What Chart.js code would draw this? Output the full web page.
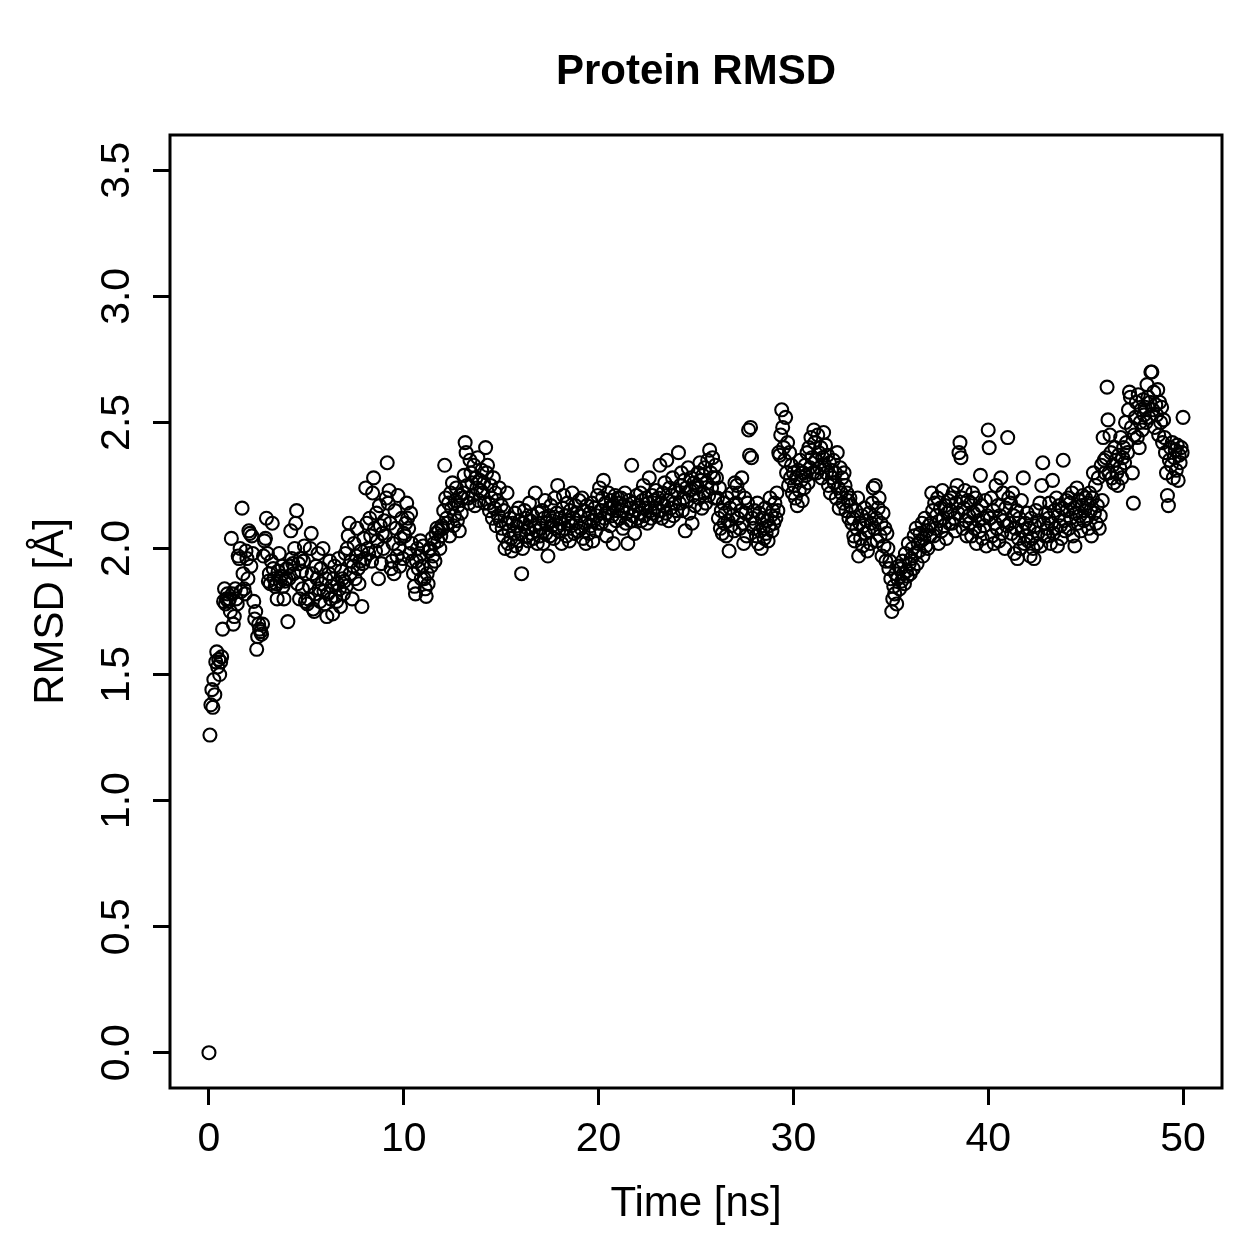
<!DOCTYPE html>
<html>
<head>
    <title>Protein RMSD</title>
    <script src="https://cdn.jsdelivr.net/npm/chart.js"></script>
    <style>
        body { margin: 0; background: #ffffff; }
    </style>
</head>
<body>
    <canvas id="mainChart" width="1259" height="1259"></canvas>
    <script>
        // Шаг по времени между кадрами (нс)
        const timeStep = 0.05;

        // RMSD белка (Å), по 20 кадров на каждую наносекунду
        const rmsd = [0.00,
            1.26, 1.38, 1.44, 1.37, 1.48, 1.42, 1.55, 1.59, 1.53, 1.56, 1.50, 1.55, 1.57, 1.68, 1.79, 1.84, 1.78, 1.80, 1.82, 1.79,
            1.80, 1.75, 2.04, 1.82, 1.70, 1.73, 1.84, 1.80, 1.78, 1.97, 1.96, 2.00, 1.83, 2.16, 1.90, 1.84, 1.82, 1.99, 1.96, 1.88,
            2.07, 2.06, 1.93, 2.05, 1.98, 1.79, 1.72, 1.75, 1.60, 1.65, 1.70, 1.68, 1.67, 1.66, 1.70, 1.97, 2.03, 2.04, 2.12, 1.98,
            1.87, 1.90, 1.86, 1.95, 2.10, 1.92, 1.88, 1.85, 1.86, 1.80, 1.91, 1.98, 1.87, 1.89, 1.93, 1.85, 1.80, 1.87, 1.88, 1.92,
            1.71, 1.88, 1.93, 2.07, 1.96, 1.94, 1.90, 2.00, 2.10, 2.15, 1.86, 1.94, 1.80, 1.96, 1.91, 1.84, 1.95, 2.01, 1.79, 1.90,
            1.78, 1.80, 1.85, 2.00, 2.06, 1.90, 1.76, 1.75, 1.82, 1.93, 1.88, 1.98, 1.84, 1.79, 1.92, 1.86, 2.00, 1.83, 1.78, 1.88,
            1.73, 1.82, 1.90, 1.95, 1.80, 1.85, 1.74, 1.88, 1.93, 1.81, 1.79, 1.86, 1.96, 1.84, 1.77, 1.91, 1.88, 1.82, 1.87, 1.98,
            1.85, 2.00, 2.05, 2.10, 1.90, 1.95, 1.80, 1.93, 2.02, 1.88, 1.97, 2.08, 1.92, 1.86, 1.95, 1.99, 1.77, 1.94, 2.04, 1.96,
            2.24, 2.10, 2.00, 1.98, 2.12, 2.05, 1.95, 2.22, 2.28, 2.08, 1.99, 2.14, 2.03, 1.88, 2.17, 2.09, 1.94, 2.06, 2.00, 2.11,
            2.05, 2.20, 2.34, 2.18, 2.23, 2.10, 1.92, 1.95, 2.02, 1.90, 2.15, 2.08, 1.97, 2.21, 2.00, 1.93, 2.04, 2.12, 1.96, 2.06,
            2.05, 2.10, 2.18, 2.12, 2.08, 1.98, 2.14, 2.02, 1.95, 1.90, 1.85, 1.82, 1.95, 2.00, 1.92, 1.97, 2.03, 1.88, 1.93, 2.01,
            1.88, 1.84, 1.81, 1.90, 1.86, 1.99, 2.00, 1.93, 2.04, 1.97, 2.02, 1.95, 2.06, 2.08, 2.03, 2.07, 2.00, 2.05, 2.09, 2.08,
            2.15, 2.33, 2.20, 2.12, 2.10, 2.18, 2.05, 2.22, 2.16, 2.26, 2.09, 2.13, 2.19, 2.24, 2.11, 2.17, 2.07, 2.21, 2.14, 2.20,
            2.22, 2.29, 2.42, 2.38, 2.25, 2.20, 2.18, 2.35, 2.30, 2.26, 2.21, 2.33, 2.17, 2.28, 2.24, 2.36, 2.19, 2.27, 2.23, 2.31,
            2.22, 2.26, 2.18, 2.40, 2.30, 2.33, 2.18, 2.15, 2.25, 2.20, 2.12, 2.28, 2.16, 2.22, 2.09, 2.19, 2.13, 2.24, 2.11, 2.17,
            2.08, 2.05, 2.15, 2.00, 2.10, 2.22, 2.02, 2.07, 2.12, 2.04, 1.99, 2.10, 2.06, 2.14, 2.01, 2.09, 2.03, 2.16, 2.11, 2.06,
            1.90, 2.00, 2.10, 2.15, 2.12, 2.05, 2.08, 2.03, 2.18, 2.11, 2.06, 2.13, 2.04, 2.09, 2.22, 2.07, 2.02, 2.14, 2.10, 2.05,
            2.08, 2.15, 2.02, 2.12, 2.19, 2.06, 2.10, 1.97, 2.13, 2.05, 2.17, 2.09, 2.11, 2.04, 2.20, 2.08, 2.14, 2.25, 2.07, 2.12,
            2.10, 2.02, 2.16, 2.21, 2.08, 2.13, 2.05, 2.18, 2.11, 2.03, 2.15, 2.09, 2.22, 2.12, 2.06, 2.17, 2.10, 2.14, 2.07, 2.19,
            2.13, 2.08, 2.20, 2.04, 2.15, 2.10, 2.02, 2.17, 2.12, 2.06, 2.14, 2.09, 2.18, 2.03, 2.11, 2.16, 2.07, 2.13, 2.21, 2.10,
            2.24, 2.15, 2.10, 2.20, 2.27, 2.12, 2.18, 2.05, 2.14, 2.22, 2.16, 2.09, 2.19, 2.13, 2.02, 2.17, 2.21, 2.11, 2.15, 2.20,
            2.18, 2.12, 2.20, 2.15, 2.08, 2.17, 2.22, 2.10, 2.14, 2.02, 2.19, 2.16, 2.11, 2.33, 2.13, 2.18, 2.06, 2.15, 2.21, 2.12,
            2.17, 2.14, 2.22, 2.11, 2.19, 2.25, 2.13, 2.16, 2.20, 2.10, 2.18, 2.28, 2.15, 2.12, 2.21, 2.14, 2.19, 2.16, 2.23, 2.13,
            2.20, 2.15, 2.33, 2.18, 2.12, 2.22, 2.17, 2.26, 2.14, 2.35, 2.19, 2.11, 2.24, 2.16, 2.21, 2.28, 2.13, 2.18, 2.23, 2.15,
            2.22, 2.38, 2.18, 2.25, 2.30, 2.15, 2.20, 2.27, 2.07, 2.24, 2.19, 2.32, 2.14, 2.23, 2.28, 2.10, 2.21, 2.26, 2.17, 2.24,
            2.25, 2.30, 2.20, 2.34, 2.27, 2.16, 2.29, 2.22, 2.32, 2.18, 2.26, 2.35, 2.21, 2.39, 2.30, 2.24, 2.36, 2.28, 2.20, 2.33,
            2.28, 2.20, 2.12, 2.24, 2.08, 2.15, 2.06, 2.18, 2.10, 2.14, 2.05, 2.20, 2.11, 1.99, 2.16, 2.09, 2.22, 2.13, 2.07, 2.26,
            2.18, 2.25, 2.12, 2.22, 2.08, 2.15, 2.28, 2.10, 2.02, 2.20, 2.14, 2.05, 2.18, 2.47, 2.37, 2.48, 2.36, 2.12, 2.08, 2.15,
            2.10, 2.05, 2.18, 2.02, 2.14, 2.07, 2.00, 2.12, 2.08, 2.04, 2.16, 2.06, 2.11, 2.03, 2.09, 2.20, 2.13, 2.07, 2.15, 2.10,
            2.18, 2.12, 2.22, 2.15, 2.38, 2.37, 2.45, 2.55, 2.48, 2.40, 2.35, 2.52, 2.30, 2.42, 2.25, 2.38, 2.28, 2.33, 2.22, 2.30,
            2.25, 2.20, 2.28, 2.17, 2.31, 2.23, 2.35, 2.27, 2.19, 2.30, 2.24, 2.33, 2.29, 2.38, 2.26, 2.40, 2.32, 2.44, 2.36, 2.30,
            2.47, 2.42, 2.35, 2.30, 2.45, 2.38, 2.32, 2.40, 2.28, 2.36, 2.46, 2.33, 2.41, 2.30, 2.37, 2.25, 2.34, 2.22, 2.31, 2.28,
            2.35, 2.26, 2.30, 2.20, 2.38, 2.24, 2.16, 2.32, 2.22, 2.28, 2.18, 2.30, 2.25, 2.15, 2.22, 2.19, 2.12, 2.20, 2.17, 2.10,
            2.12, 2.05, 2.03, 2.15, 2.08, 2.20, 1.97, 2.10, 2.04, 2.13, 2.01, 2.09, 2.16, 2.06, 2.11, 1.99, 2.07, 2.14, 2.02, 2.10,
            2.18, 2.24, 2.08, 2.25, 2.12, 2.03, 2.16, 2.20, 2.05, 2.10, 1.97, 2.14, 2.01, 2.08, 1.95, 2.06, 2.00, 1.92, 1.95, 1.88,
            1.75, 1.80, 1.85, 1.82, 1.90, 1.78, 1.88, 1.93, 1.84, 1.92, 1.87, 1.95, 1.90, 1.86, 1.98, 1.91, 1.89, 2.02, 1.94, 1.90,
            1.96, 2.00, 1.92, 2.05, 1.98, 2.08, 1.94, 2.02, 1.99, 2.06, 2.03, 2.10, 1.97, 2.04, 2.12, 2.01, 2.07, 2.00, 2.09, 2.05,
            2.10, 2.22, 2.15, 2.05, 2.18, 2.08, 2.13, 2.20, 2.02, 2.11, 2.16, 2.07, 2.23, 2.12, 2.09, 2.17, 2.04, 2.14, 2.19, 2.10,
            2.15, 2.20, 2.10, 2.22, 2.12, 2.07, 2.18, 2.25, 2.14, 2.38, 2.42, 2.36, 2.20, 2.08, 2.16, 2.23, 2.11, 2.05, 2.19, 2.13,
            2.10, 2.18, 2.05, 2.22, 2.14, 2.08, 2.20, 2.02, 2.15, 2.11, 2.07, 2.29, 2.17, 2.04, 2.12, 2.09, 2.19, 2.01, 2.13, 2.47,
            2.40, 2.12, 2.20, 2.05, 2.15, 2.02, 2.10, 2.25, 2.08, 2.17, 2.03, 2.13, 2.28, 2.06, 2.22, 2.11, 2.00, 2.16, 2.09, 2.44,
            2.20, 2.10, 2.18, 2.06, 2.22, 2.13, 1.98, 2.08, 2.15, 1.96, 2.04, 2.12, 2.00, 2.19, 2.07, 2.28, 2.02, 2.10, 2.05, 2.14,
            2.03, 2.08, 1.97, 2.12, 2.04, 2.00, 1.96, 2.09, 2.15, 2.02, 2.06, 2.11, 2.18, 2.01, 2.25, 2.34, 2.10, 2.05, 2.14, 2.08,
            2.05, 2.12, 2.18, 2.02, 2.10, 2.27, 2.06, 2.15, 2.08, 2.20, 2.01, 2.13, 2.17, 2.09, 2.04, 2.16, 2.35, 2.11, 2.07, 2.19,
            2.15, 2.20, 2.08, 2.18, 2.12, 2.22, 2.05, 2.16, 2.01, 2.14, 2.24, 2.10, 2.19, 2.13, 2.07, 2.17, 2.21, 2.11, 2.15, 2.20,
            2.12, 2.18, 2.08, 2.22, 2.15, 2.05, 2.20, 2.30, 2.14, 2.25, 2.10, 2.17, 2.28, 2.08, 2.13, 2.33, 2.19, 2.44, 2.35, 2.30,
            2.36, 2.64, 2.51, 2.30, 2.45, 2.38, 2.28, 2.33, 2.26, 2.40, 2.35, 2.30, 2.25, 2.37, 2.32, 2.44, 2.28, 2.36, 2.40, 2.34,
            2.50, 2.42, 2.38, 2.55, 2.62, 2.60, 2.48, 2.30, 2.18, 2.45, 2.52, 2.58, 2.44, 2.61, 2.40, 2.50, 2.55, 2.47, 2.59, 2.53,
            2.56, 2.50, 2.65, 2.60, 2.52, 2.58, 2.70, 2.70, 2.55, 2.62, 2.48, 2.57, 2.53, 2.63, 2.45, 2.58, 2.50, 2.56, 2.42, 2.51,
            2.44, 2.38, 2.30, 2.21, 2.17, 2.35, 2.40, 2.33, 2.42, 2.28, 2.36, 2.39, 2.31, 2.41, 2.27, 2.37, 2.34, 2.40, 2.38, 2.52
        ];

        // Деления осей
        const xTicks = [0, 10, 20, 30, 40, 50];
        const yTicks = [0.0, 0.5, 1.0, 1.5, 2.0, 2.5, 3.0, 3.5];

        const titleText = 'Protein RMSD';
        const xLabel = 'Time [ns]';
        const yLabel = 'RMSD [Å]';

        const points = rmsd.map((v, i) => ({ x: i * timeStep, y: v }));

        const fontFamily = '"Liberation Sans", Arial, Helvetica, sans-serif';

        // Рамка, подписи делений и заголовки в стиле R
        const rStylePlugin = {
            id: 'rStyle',
            afterDraw(chart) {
                const ctx = chart.ctx;
                const area = chart.chartArea;
                const xs = chart.scales.x;
                const ys = chart.scales.y;
                ctx.save();
                ctx.strokeStyle = '#000';
                ctx.lineWidth = 3;
                ctx.strokeRect(area.left, area.top, area.right - area.left, area.bottom - area.top);

                ctx.fillStyle = '#000';
                ctx.font = '41px ' + fontFamily;
                ctx.textAlign = 'center';
                ctx.textBaseline = 'alphabetic';
                xTicks.forEach(v => {
                    ctx.fillText(String(v), xs.getPixelForValue(v), 1151);
                });
                yTicks.forEach(v => {
                    ctx.save();
                    ctx.translate(129, ys.getPixelForValue(v));
                    ctx.rotate(-Math.PI / 2);
                    ctx.fillText(v.toFixed(1), 0, 0);
                    ctx.restore();
                });

                ctx.font = '42px ' + fontFamily;
                ctx.fillText(xLabel, (area.left + area.right) / 2, 1216);
                ctx.save();
                ctx.translate(63, (area.top + area.bottom) / 2);
                ctx.rotate(-Math.PI / 2);
                ctx.fillText(yLabel, 0, 0);
                ctx.restore();

                ctx.font = 'bold 42px ' + fontFamily;
                ctx.fillText(titleText, (area.left + area.right) / 2, 84);
                ctx.restore();
            }
        };

        new Chart(document.getElementById('mainChart'), {
            type: 'scatter',
            data: {
                datasets: [{
                    label: 'RMSD',
                    data: points,
                    pointStyle: 'circle',
                    pointRadius: 6.5,
                    pointHoverRadius: 6.5,
                    backgroundColor: 'rgba(0,0,0,0)',
                    borderColor: '#000000',
                    borderWidth: 2.1
                }]
            },
            options: {
                responsive: false,
                maintainAspectRatio: false,
                animation: false,
                layout: {
                    padding: { top: 135, right: 37, left: 0, bottom: 0 }
                },
                scales: {
                    x: {
                        type: 'linear',
                        min: -2,
                        max: 52,
                        afterBuildTicks: s => { s.ticks = xTicks.map(v => ({ value: v })); },
                        afterFit: s => { s.height = 171; },
                        border: { display: false },
                        grid: {
                            drawOnChartArea: false,
                            drawTicks: true,
                            tickLength: 17,
                            tickColor: '#000',
                            tickWidth: 3
                        },
                        ticks: { display: false }
                    },
                    y: {
                        type: 'linear',
                        min: -0.14,
                        max: 3.64,
                        afterBuildTicks: s => { s.ticks = yTicks.map(v => ({ value: v })); },
                        afterFit: s => { s.width = 170; },
                        border: { display: false },
                        grid: {
                            drawOnChartArea: false,
                            drawTicks: true,
                            tickLength: 17,
                            tickColor: '#000',
                            tickWidth: 3
                        },
                        ticks: { display: false }
                    }
                },
                plugins: {
                    legend: { display: false },
                    tooltip: { enabled: false },
                    title: { display: false }
                }
            },
            plugins: [rStylePlugin]
        });
    </script>
</body>
</html>
